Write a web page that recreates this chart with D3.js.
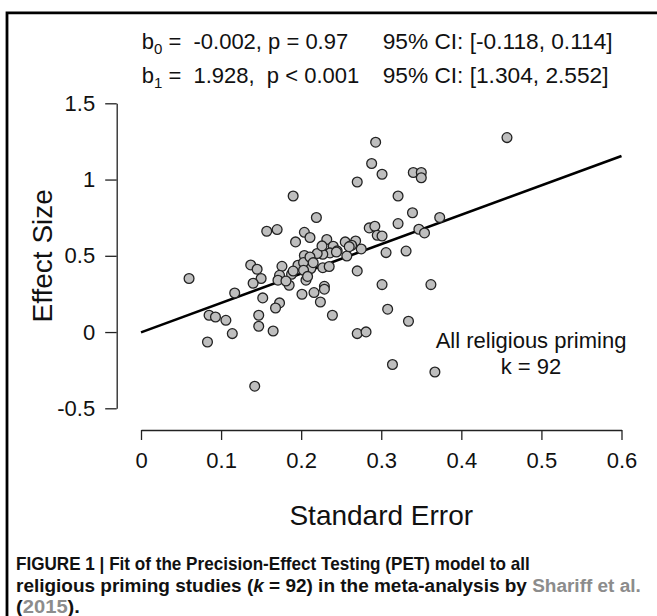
<!DOCTYPE html>
<html>
<head>
<meta charset="utf-8">
<script src="https://cdn.jsdelivr.net/npm/d3@7"></script>
<style>
  html, body { margin: 0; padding: 0; background: #fff; }
  svg { display: block; font-family: "Liberation Sans", Arial, sans-serif; }
</style>
</head>
<body>
<svg id="chart" width="657" height="616"></svg>
<script>
/* PET model scatter: effect size vs standard error */

// standard errors of the 92 studies (x) and their effect sizes (y)
var standardErrors = [
  0.190, 0.157, 0.170, 0.204, 0.193, 0.060, 0.137, 0.145, 0.150, 0.140,
  0.176, 0.204, 0.196, 0.203, 0.173, 0.171, 0.188, 0.185, 0.206, 0.117,
  0.152, 0.173, 0.201, 0.168, 0.085, 0.093, 0.106, 0.147, 0.147, 0.114,
  0.165, 0.083, 0.142, 0.293, 0.288, 0.301, 0.270, 0.340, 0.350, 0.350,
  0.321, 0.219, 0.339, 0.373, 0.285, 0.292, 0.321, 0.347, 0.354, 0.295,
  0.301, 0.211, 0.232, 0.255, 0.268, 0.263, 0.240, 0.245, 0.236, 0.227,
  0.220, 0.211, 0.257, 0.306, 0.331, 0.212, 0.227, 0.270, 0.203, 0.301,
  0.362, 0.216, 0.229, 0.229, 0.224, 0.239, 0.308, 0.334, 0.270, 0.281,
  0.314, 0.367, 0.457, 0.215, 0.244, 0.190, 0.226, 0.181, 0.260, 0.208,
  0.235, 0.275
];
var effectSizes = [
  0.892, 0.661, 0.672, 0.654, 0.591, 0.351, 0.440, 0.412, 0.351, 0.320,
  0.431, 0.502, 0.438, 0.456, 0.372, 0.340, 0.379, 0.307, 0.340, 0.256,
  0.224, 0.191, 0.248, 0.158, 0.110, 0.099, 0.077, 0.110, 0.038, -0.010,
  0.007, -0.065, -0.355, 1.245, 1.105, 1.035, 0.984, 1.046, 1.046, 1.012,
  0.892, 0.751, 0.782, 0.751, 0.683, 0.694, 0.711, 0.674, 0.650, 0.635,
  0.630, 0.620, 0.607, 0.591, 0.597, 0.569, 0.563, 0.532, 0.519, 0.510,
  0.515, 0.492, 0.499, 0.521, 0.531, 0.416, 0.422, 0.401, 0.405, 0.311,
  0.311, 0.259, 0.300, 0.281, 0.197, 0.110, 0.150, 0.071, -0.010, 0.001,
  -0.213, -0.262, 1.275, 0.455, 0.525, 0.400, 0.565, 0.335, 0.560, 0.365,
  0.430, 0.545
];

// PET fit: effect = b0 + b1 * SE
var intercept = -0.002;
var slope = 1.928;
var fitRange = [0, 0.6];

var xTicks = [0, 0.1, 0.2, 0.3, 0.4, 0.5, 0.6];
var yTicks = [-0.5, 0, 0.5, 1, 1.5];

var statLines = [
  { coef: "b", sub: "0", est: " =  -0.002, p = 0.97", ci: "95% CI: [-0.118, 0.114]" },
  { coef: "b", sub: "1", est: " =  1.928,  p < 0.001", ci: "95% CI: [1.304, 2.552]" }
];
var annotation = ["All religious priming", "k = 92"];

var svg = d3.select("#chart");

var x = d3.scaleLinear().domain([0, 0.6]).range([141, 621.5]);
var y = d3.scaleLinear().domain([-0.5, 1.5]).range([408.3, 103.3]);

drawFrame();
drawAxes();
drawFit();
drawPoints();
drawTexts();
drawCaption();

function drawFrame() {
  svg.append("rect").attr("width", 657).attr("height", 616).attr("fill", "#fff");
  svg.append("path")
    .attr("d", "M7,616V12.8H657")
    .attr("fill", "none")
    .attr("stroke", "#000")
    .attr("stroke-width", 2.8);
}

function drawAxes() {
  let fmt = d => String(d);

  let gx = svg.append("g")
    .attr("transform", "translate(0,430)")
    .call(d3.axisBottom(x).tickValues(xTicks).tickFormat(fmt).tickSize(10).tickPadding(12).tickSizeOuter(0));

  let gy = svg.append("g")
    .attr("transform", "translate(116.7,0)")
    .call(d3.axisLeft(y).tickValues(yTicks).tickFormat(fmt).tickSize(11.5).tickPadding(10).tickSizeOuter(0));

  [gx, gy].forEach(g => {
    g.selectAll("path, line").attr("stroke", "#222").attr("stroke-width", 1.3);
    g.selectAll("text")
      .attr("fill", "#111")
      .style("font-size", "22px")
      .style("font-family", "'Liberation Sans', Arial, sans-serif");
  });

  svg.append("text")
    .attr("x", x(0.3))
    .attr("y", 525)
    .attr("text-anchor", "middle")
    .style("font-size", "28px")
    .attr("fill", "#111")
    .text("Standard Error");

  svg.append("text")
    .attr("transform", "translate(52," + y(0.5) + ") rotate(-90)")
    .attr("text-anchor", "middle")
    .style("font-size", "28px")
    .attr("fill", "#111")
    .text("Effect Size");
}

function drawFit() {
  let line = d3.line()
    .x(d => x(d))
    .y(d => y(intercept + slope * d));

  svg.append("path")
    .datum(fitRange)
    .attr("d", line)
    .attr("fill", "none")
    .attr("stroke", "#000")
    .attr("stroke-width", 2.6);
}

function drawPoints() {
  let points = standardErrors.map((se, i) => ({ se: se, es: effectSizes[i] }));

  svg.append("g")
    .selectAll("circle")
    .data(points)
    .join("circle")
    .attr("cx", d => x(d.se))
    .attr("cy", d => y(d.es))
    .attr("r", 4.9)
    .attr("fill", "#bebebe")
    .attr("stroke", "#222")
    .attr("stroke-width", 1.3);
}

function drawTexts() {
  let header = svg.append("g").attr("fill", "#111");

  statLines.forEach((s, i) => {
    let base = 48.5 + i * 34;
    // keep the double spaces of the plotmath layout
    let t = header.append("text")
      .attr("xml:space", "preserve")
      .attr("x", 141.7)
      .attr("y", base)
      .style("font-size", "22px");
    t.append("tspan").text(s.coef);
    t.append("tspan").attr("dy", 5).style("font-size", "15px").text(s.sub);
    t.append("tspan").attr("dy", -5).text(s.est);

    header.append("text")
      .attr("x", 382.7)
      .attr("y", base)
      .style("font-size", "22.7px")
      .text(s.ci);
  });

  svg.append("g")
    .selectAll("text")
    .data(annotation)
    .join("text")
    .attr("x", 531)
    .attr("y", (d, i) => 347.5 + i * 26.5)
    .attr("text-anchor", "middle")
    .style("font-size", "22px")
    .attr("fill", "#111")
    .text(d => d);
}

function drawCaption() {
  let rows = [
    { base: 570, width: 514, parts: [["FIGURE 1 | Fit of the Precision-Effect Testing (PET) model to all"]] },
    { base: 591.5, width: 625, parts: [["religious priming studies ("], ["k", "italic"], [" = 92) in the meta-analysis by "], ["Shariff et al.", "link"]] },
    { base: 613, width: 64, parts: [["("], ["2015", "link"], [")."]] }
  ];

  rows.forEach(r => {
    let t = svg.append("text")
      .attr("x", 0)
      .attr("y", 0)
      .style("font-size", "17.5px")
      .style("font-weight", "bold")
      .attr("fill", "#111");

    r.parts.forEach(p => {
      let ts = t.append("tspan").text(p[0]);
      if (p[1] === "italic") ts.style("font-style", "italic");
      if (p[1] === "link") ts.attr("fill", "#8c8c8c");
    });

    // squeeze to the condensed width of the original caption face
    let w = t.node().getComputedTextLength();
    t.attr("transform", "translate(16," + r.base + ") scale(" + (r.width / w) + ",1)");
  });
}
</script>
</body>
</html>
